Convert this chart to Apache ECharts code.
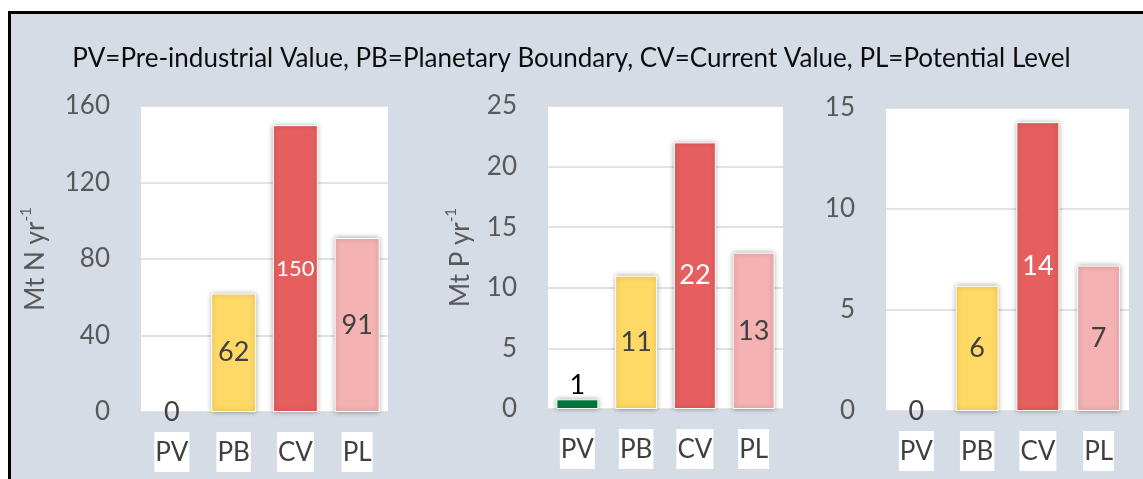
<!DOCTYPE html>
<html>
<head>
<meta charset="utf-8">
<script src="https://cdn.jsdelivr.net/npm/echarts@6/dist/echarts.min.js"></script>
<style>
  html, body { margin: 0; padding: 0; background: #ffffff; }
  #frame { position: absolute; left: 8px; top: 11px; width: 1135px; height: 468px;
           box-sizing: border-box; background: #d6dce5;
           border-left: 3px solid #000; border-top: 3px solid #000; }
  #chart { position: absolute; left: 0; top: 0; width: 1143px; height: 479px; }
</style>
</head>
<body>
<div id="frame"></div>
<div id="chart"></div>
<script>
const titleText = 'PV=Pre-industrial Value, PB=Planetary Boundary, CV=Current Value, PL=Potential Level';
const categories = ['PV', 'PB', 'CV', 'PL'];
const barColors = ['#007a3d', '#ffd966', '#e65f5f', '#f4b2b2'];
const nitrogenValues = [0, 62, 150, 91];
const phosphorusValues = [0.8, 11, 22, 12.9];
const thirdValues = [0, 6.2, 14.3, 7.2];
const nitrogenTicks = [0, 40, 80, 120, 160];
const phosphorusTicks = [0, 5, 10, 15, 20, 25];
const thirdTicks = [0, 5, 10, 15];
const nitrogenUnit = 'Mt N yr';
const phosphorusUnit = 'Mt P yr';

const FONT = 'Lato';
const grids = [
  { left: 141, top: 106, width: 247, height: 306 },
  { left: 548, top: 106, width: 235, height: 303 },
  { left: 886, top: 108, width: 243, height: 303 }
];
const barWidths = [45, 42, 43];

function yAxis(i, ticks, unit) {
  const ax = {
    type: 'value', gridIndex: i,
    min: ticks[0], max: ticks[ticks.length - 1], interval: ticks[1] - ticks[0],
    axisLine: { show: false }, axisTick: { show: false },
    splitLine: { lineStyle: { color: '#d9d9d9', width: 1.5 } },
    axisLabel: { color: '#595959', fontSize: 26, fontFamily: FONT, margin: 31 }
  };
  if (unit) {
    ax.name = '{m|' + unit + '}{s|-1}';
    ax.nameLocation = 'middle';
    ax.nameGap = i === 0 ? 92 : 74;
    ax.nameTextStyle = {
      rich: {
        m: { color: '#595959', fontSize: 26, fontFamily: FONT, lineHeight: 30, verticalAlign: 'bottom' },
        s: { color: '#595959', fontSize: 15, fontFamily: FONT, lineHeight: 30, verticalAlign: 'top' }
      }
    };
  }
  return ax;
}

function xAxis(i) {
  return {
    type: 'category', gridIndex: i, data: categories,
    axisLine: { show: false }, axisTick: { show: false },
    axisLabel: {
      color: '#404040', fontSize: 26, fontFamily: FONT, margin: 20,
      backgroundColor: '#ffffff', padding: [5, 1, 4, 1], lineHeight: 31
    }
  };
}

function barSeries(i, values) {
  return {
    type: 'bar', xAxisIndex: i, yAxisIndex: i, barWidth: barWidths[i],
    data: values.map((v, k) => {
      const isRed = k === 2;
      const lbl = {
        show: true,
        fontFamily: FONT,
        fontSize: v >= 100 ? 22 : 27,
        color: isRed ? '#ffffff' : '#404040',
        position: 'inside',
        formatter: () => String(Math.round(v))
      };
      if (v > 0 && v < 2) { lbl.position = 'top'; lbl.color = '#000000'; lbl.distance = 1; }
      const style = v === 0
        ? { color: 'transparent', borderWidth: 0, shadowBlur: 0 }
        : { color: barColors[k], borderColor: '#ffffff', borderWidth: 1,
            shadowColor: 'rgba(0,0,0,0.35)', shadowBlur: 5 };
      return { value: v, itemStyle: style, label: lbl };
    })
  };
}

const chart = echarts.init(document.getElementById('chart'), null, { renderer: 'canvas' });
chart.setOption({
  animation: false,
  backgroundColor: 'transparent',
  title: {
    text: titleText, left: 'center', top: 41,
    textStyle: { color: '#0d0d0d', fontSize: 26, fontWeight: 'normal', fontFamily: FONT }
  },
  grid: grids.map(g => Object.assign({ show: true, backgroundColor: '#ffffff', borderWidth: 0 }, g)),
  xAxis: [xAxis(0), xAxis(1), xAxis(2)],
  yAxis: [yAxis(0, nitrogenTicks, nitrogenUnit), yAxis(1, phosphorusTicks, phosphorusUnit), yAxis(2, thirdTicks, null)],
  series: [barSeries(0, nitrogenValues), barSeries(1, phosphorusValues), barSeries(2, thirdValues)]
});
</script>
</body>
</html>
